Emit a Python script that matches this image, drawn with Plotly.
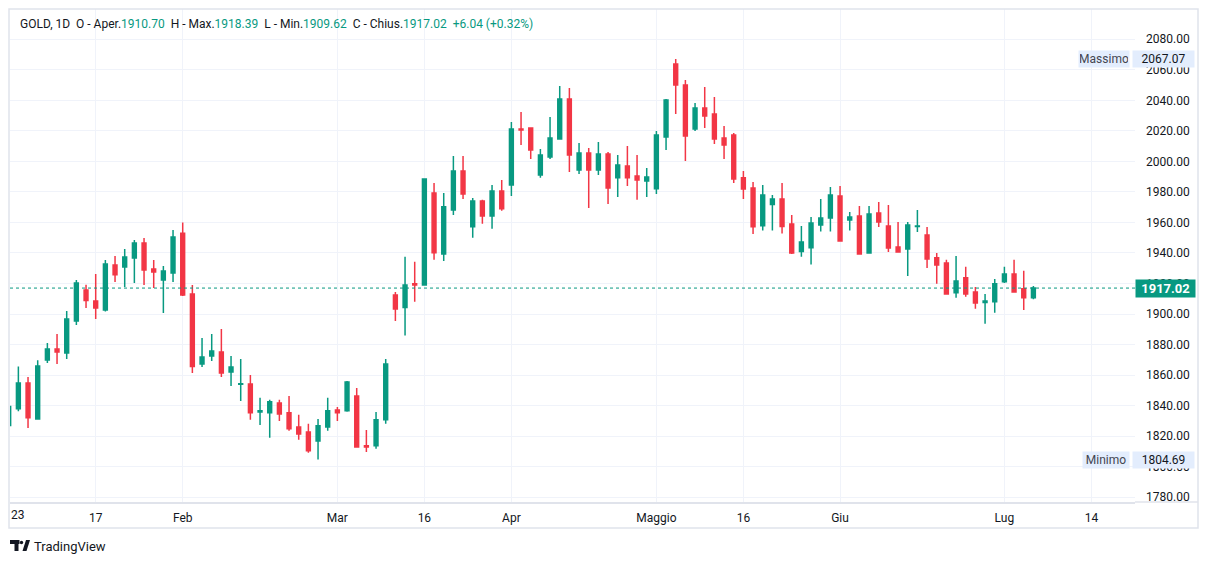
import plotly.graph_objects as go

# daily candles (first bar = first session of 2023)
opens = [1827.0, 1837.9, 1854.9, 1831.3, 1869.9, 1877.1, 1874.5, 1895.5, 1915.7, 1908.6,
         1902.7, 1932.1, 1930.8, 1936.7, 1946.5, 1929.5, 1922.3, 1926.9, 1953.0, 1913.1,
         1867.3, 1872.6, 1875.2, 1862.1, 1854.0, 1854.2, 1835.9, 1835.3, 1841.8, 1835.3,
         1826.1, 1822.8, 1816.9, 1826.1, 1837.2, 1836.6, 1846.4, 1813.7, 1813.7, 1830.7,
         1912.5, 1904.3, 1919.8, 1919.1, 1979.3, 1939.4, 1968.2, 1993.7, 1957.1, 1974.1,
         1964.3, 1980.6, 1984.6, 2021.2, 2021.8, 1991.1, 2002.9, 2014.7, 2040.8, 1994.4,
         2005.5, 1994.4, 2004.8, 1989.2, 1997.0, 1990.4, 1987.2, 1982.0, 2016.0, 2063.7,
         2050.0, 2021.2, 2035.0, 2031.0, 2015.3, 2017.3, 1989.2, 1982.6, 1957.9, 1971.7,
         1975.4, 1959.0, 1940.9, 1943.5, 1958.4, 1962.9, 1977.3, 1961.6, 1964.2, 1940.0,
         1966.2, 1957.7, 1943.9, 1942.6, 1957.3, 1951.8, 1936.8, 1933.5, 1913.9, 1923.7,
         1914.5, 1907.6, 1908.0, 1921.1, 1926.3, 1916.5, 1910.70]
highs = [1840.5, 1865.6, 1858.8, 1869.7, 1881.1, 1887.0, 1902.0, 1922.3, 1919.2, 1926.2,
         1935.4, 1938.0, 1942.6, 1948.5, 1949.8, 1935.4, 1931.4, 1955.0, 1960.0, 1919.0,
         1884.3, 1887.0, 1890.2, 1872.6, 1870.6, 1860.1, 1845.1, 1843.8, 1843.8, 1846.4,
         1834.0, 1828.1, 1831.3, 1845.1, 1839.2, 1856.2, 1851.6, 1824.1, 1835.9, 1870.6,
         1914.4, 1937.5, 1934.2, 1989.0, 1985.9, 1979.3, 2003.5, 2003.5, 1976.0, 1974.8,
         1984.6, 1987.8, 2025.8, 2032.3, 2022.3, 2008.1, 2029.0, 2049.3, 2048.0, 2012.1,
         2008.8, 2012.7, 2006.1, 2004.2, 2010.1, 2004.2, 1995.7, 2019.9, 2040.8, 2067.07,
         2053.3, 2038.2, 2048.7, 2042.1, 2023.2, 2018.6, 1993.7, 1986.5, 1984.5, 1978.0,
         1985.8, 1964.9, 1957.7, 1963.6, 1975.4, 1983.2, 1983.9, 1966.9, 1970.8, 1970.8,
         1973.4, 1971.4, 1960.3, 1960.3, 1968.2, 1957.0, 1940.0, 1935.5, 1938.1, 1930.9,
         1917.8, 1913.2, 1923.0, 1930.9, 1935.5, 1928.3, 1918.39]
lows = [1825.5, 1836.4, 1825.4, 1831.0, 1868.0, 1867.3, 1870.6, 1892.8, 1904.0, 1896.8,
        1901.6, 1921.0, 1917.7, 1920.3, 1919.0, 1917.1, 1900.7, 1921.0, 1911.8, 1861.4,
        1865.4, 1869.3, 1858.8, 1852.9, 1843.1, 1830.7, 1827.4, 1818.9, 1830.0, 1823.5,
        1817.6, 1809.1, 1804.69, 1823.5, 1830.0, 1836.0, 1812.5, 1809.7, 1811.7, 1828.1,
        1895.5, 1886.0, 1908.0, 1918.5, 1935.5, 1934.8, 1964.9, 1975.4, 1949.9, 1959.1,
        1955.8, 1967.6, 1977.4, 2010.7, 2001.6, 1989.2, 2001.6, 2014.7, 1993.1, 1991.8,
        1969.5, 1991.1, 1972.1, 1976.7, 1983.9, 1974.8, 1976.7, 1978.7, 2007.5, 2031.0,
        2000.3, 2019.9, 2021.9, 2011.4, 2001.6, 1985.9, 1975.4, 1952.5, 1954.7, 1954.7,
        1952.7, 1939.4, 1937.6, 1932.4, 1954.0, 1954.0, 1947.5, 1954.7, 1939.0, 1939.5,
        1957.0, 1940.7, 1940.3, 1925.0, 1953.8, 1930.2, 1919.8, 1912.6, 1910.6, 1911.3,
        1903.4, 1893.6, 1900.8, 1920.4, 1914.0, 1902.7, 1909.62]
closes = [1839.5, 1854.9, 1832.0, 1866.0, 1877.1, 1875.2, 1896.8, 1920.3, 1908.8, 1904.0,
          1932.8, 1925.8, 1937.3, 1946.5, 1928.8, 1927.5, 1928.2, 1950.4, 1912.5, 1865.6,
          1871.9, 1875.8, 1861.4, 1865.4, 1854.4, 1835.3, 1836.6, 1842.5, 1834.6, 1824.8,
          1821.5, 1810.4, 1826.8, 1836.6, 1835.3, 1855.5, 1813.0, 1813.0, 1830.7, 1867.3,
          1903.3, 1919.1, 1919.1, 1988.5, 1940.1, 1970.2, 1993.7, 1978.7, 1974.1, 1964.3,
          1980.6, 1968.9, 2021.2, 2020.5, 2007.5, 2004.2, 2015.3, 2040.8, 2004.2, 2005.5,
          1994.4, 2004.8, 1982.6, 1997.6, 1989.2, 1987.8, 1989.8, 2017.3, 2040.2, 2050.0,
          2016.6, 2035.0, 2029.7, 2014.7, 2010.7, 1988.5, 1981.9, 1957.1, 1978.0, 1975.4,
          1957.3, 1940.0, 1947.2, 1959.7, 1962.9, 1978.0, 1947.9, 1963.6, 1939.4, 1965.5,
          1960.3, 1943.3, 1940.7, 1958.4, 1957.7, 1936.1, 1932.2, 1913.2, 1921.7, 1913.2,
          1907.3, 1908.6, 1919.8, 1926.3, 1914.5, 1910.6, 1917.02]

# time axis labels (bar index where each label sits)
time_tick_bars = [9, 18, 34, 43, 52, 67, 76, 86, 103, 112]
time_tick_text = ["17", "Feb", "Mar", "16", "Apr", "Maggio", "16", "Giu", "Lug", "14"]

price_ticks = list(range(1780, 2081, 20))
last_price = 1917.02
high_price = 2067.07
low_price = 1804.69

GREEN = "#089981"
RED = "#f23645"
GRID = "#f0f3fa"
BORDER = "#e0e3eb"
TEXT = "#131722"
FONT = "Roboto"

# plot area in pixels
L, R, T, B = 10, 1135, 9, 502


def px(x):
    return (x - L) / (R - L)


def py(y):
    return (B - y) / (B - T)


bars = list(range(len(opens)))

fig = go.Figure(go.Candlestick(
    x=bars, open=opens, high=highs, low=lows, close=closes,
    increasing=dict(line=dict(color=GREEN, width=1.5), fillcolor=GREEN),
    decreasing=dict(line=dict(color=RED, width=1.5), fillcolor=RED),
    whiskerwidth=0, hoverinfo="skip", showlegend=False,
))

hdr = ("GOLD, 1D\u00a0\u00a0O - Aper.<span style='color:%s'>1910.70</span>\u00a0\u00a0"
       "H - Max.<span style='color:%s'>1918.39</span>\u00a0\u00a0"
       "L - Min.<span style='color:%s'>1909.62</span>\u00a0\u00a0"
       "C - Chius.<span style='color:%s'>1917.02\u00a0\u00a0+6.04 (+0.32%%)</span>") % ((GREEN,) * 4)

annotations = [
    dict(text=hdr, xref="paper", yref="paper", x=px(18), y=py(24), xanchor="left",
         yanchor="middle", showarrow=False, font=dict(size=12, color=TEXT)),
    dict(text="23", xref="paper", yref="paper", x=px(9), y=py(515), xanchor="left",
         yanchor="middle", showarrow=False, font=dict(size=12, color=TEXT)),
    dict(text="Massimo", xref="paper", yref="y", x=px(1130), y=high_price, xanchor="right",
         yanchor="middle", showarrow=False, width=48, height=14, bgcolor="#e3edfd",
         font=dict(size=12, color="#434651")),
    dict(text="%.2f" % high_price, xref="paper", yref="y", x=px(1132), y=high_price,
         xanchor="left", yanchor="middle", showarrow=False, width=59, height=14,
         bgcolor="#e3edfd", font=dict(size=12, color=TEXT)),
    dict(text="Minimo", xref="paper", yref="y", x=px(1130), y=low_price, xanchor="right",
         yanchor="middle", showarrow=False, width=44, height=14, bgcolor="#e3edfd",
         font=dict(size=12, color="#434651")),
    dict(text="%.2f" % low_price, xref="paper", yref="y", x=px(1132), y=low_price,
         xanchor="left", yanchor="middle", showarrow=False, width=59, height=14,
         bgcolor="#e3edfd", font=dict(size=12, color=TEXT)),
    dict(text="<b>%.2f</b>" % last_price, xref="paper", yref="y", x=px(1135), y=last_price,
         xanchor="left", yanchor="middle", showarrow=False, width=57, height=15,
         bgcolor=GREEN, font=dict(size=13, color="white")),
    dict(text="TradingView", xref="paper", yref="paper", x=px(32), y=py(546),
         xanchor="left", yanchor="middle", showarrow=False, font=dict(size=13, color=TEXT)),
]

shapes = [
    # outer frame
    dict(type="rect", xref="paper", yref="paper", x0=px(9), x1=px(1198), y0=py(528), y1=py(9),
         line=dict(color=BORDER, width=1.5), layer="above"),
    # time axis separator carried under the price scale
    dict(type="line", xref="paper", yref="paper", x0=1, x1=px(1198), y0=0, y1=0,
         line=dict(color=BORDER, width=1.5)),
    # last price line
    dict(type="line", xref="paper", yref="y", x0=0, x1=1, y0=last_price, y1=last_price,
         line=dict(color=GREEN, width=1, dash="dot")),
    # logo
    dict(type="rect", xref="paper", yref="paper", x0=px(10), x1=px(19.5), y0=py(544), y1=py(540),
         fillcolor=TEXT, line_width=0),
    dict(type="rect", xref="paper", yref="paper", x0=px(14.5), x1=px(18.5), y0=py(551), y1=py(540),
         fillcolor=TEXT, line_width=0),
    dict(type="circle", xref="paper", yref="paper", x0=px(19.8), x1=px(23.2), y0=py(544.2), y1=py(540.8),
         fillcolor=TEXT, line_width=0),
    dict(type="path", xref="paper", yref="paper",
         path="M %f %f L %f %f L %f %f L %f %f Z" % (px(22.5), py(551), px(26.5), py(551),
                                                      px(30), py(540), px(26), py(540)),
         fillcolor=TEXT, line_width=0),
]

fig.update_layout(
    width=1209, height=564,
    margin=dict(l=L, r=1209 - R, t=T, b=564 - B),
    paper_bgcolor="white", plot_bgcolor="white",
    font=dict(family=FONT, size=12, color=TEXT),
    boxgap=0.43,
    annotations=annotations, shapes=shapes,
    xaxis=dict(
        range=[(L - 8.7) / 9.667, (R - 8.7) / 9.667],
        rangeslider=dict(visible=False),
        tickvals=time_tick_bars, ticktext=time_tick_text,
        showgrid=True, gridcolor=GRID, zeroline=False,
        showline=True, linecolor=BORDER, linewidth=1.5,
        ticks="", ticklabelstandoff=4,
        tickfont=dict(size=12, color=TEXT),
    ),
    yaxis=dict(
        side="right",
        range=[1776.9, 2099.8],
        tickvals=price_ticks, ticktext=["%.2f" % v for v in price_ticks],
        showgrid=True, gridcolor=GRID, zeroline=False, showline=False,
        ticks="", ticklabelstandoff=10,
        tickfont=dict(size=12, color=TEXT),
    ),
)

# the page body has a default 8px margin; drop it so the figure sits at 0,0
fig.write_html("out.html", config={"displayModeBar": False},
               post_script="document.body.style.margin='0';document.body.style.overflow='hidden';")
